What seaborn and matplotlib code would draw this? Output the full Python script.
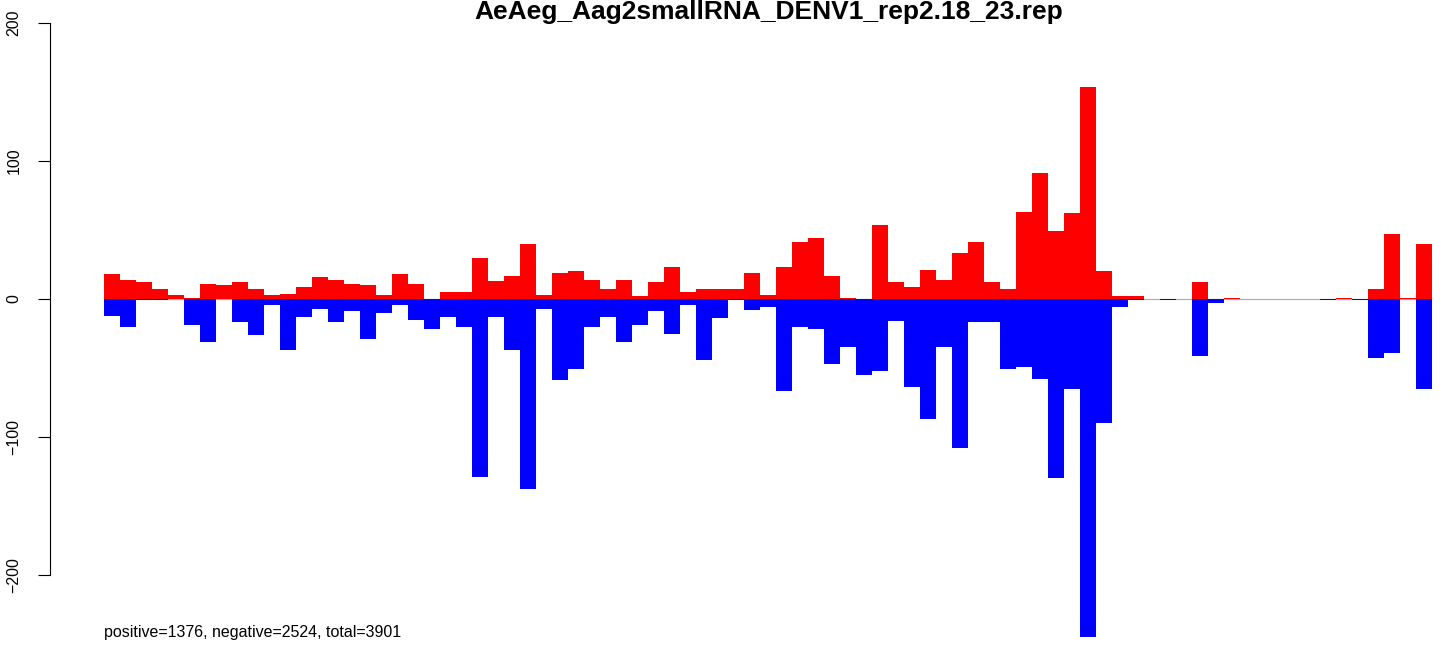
import numpy as np
import pandas as pd
import matplotlib
matplotlib.use("Agg")
import matplotlib.pyplot as plt
import seaborn as sns

# stile di base, poi font tipo Helvetica come in R
sns.set_theme(style="white")
plt.rcParams["font.family"] = ["Liberation Sans", "DejaVu Sans"]

titolo = "AeAeg_Aag2smallRNA_DENV1_rep2.18_23.rep"
nota = "positive=1376, negative=2524, total=3901"

# letture per bin (83 bin), positivi sopra lo zero, negativi sotto
positivi = [18, 14, 12, 7, 3, 1, 11, 10, 12, 7, 3, 4, 9, 16, 14, 11, 10, 3, 18, 11, 0, 5,
            5, 30, 13, 17, 40, 3, 19, 20, 14, 7, 14, 2, 12, 23, 5, 7, 7, 7, 19, 3, 23, 41,
            44, 17, 1, 0, 54, 12, 9, 21, 14, 33, 41, 12, 7, 63, 91, 49, 62, 154, 20, 2, 2,
            0, 0, 0, 12, 0, 1, 0, 0, 0, 0, 0, 0, 0.5, 0, 7, 47, 0.5, 40]
negativi = [12, 20, 1, 1, 0, 19, 31, 0, 17, 26, 4, 37, 13, 7, 17, 9, 29, 10, 4, 15, 22, 13,
            20, 129, 13, 37, 138, 7, 59, 51, 20, 13, 31, 19, 9, 25, 4, 44, 14, 1, 8, 6, 67, 20,
            22, 47, 35, 55, 52, 16, 64, 87, 35, 108, 17, 17, 51, 49, 58, 130, 65, 245, 90, 6, 1,
            0, 0.5, 0, 41, 3, 0.3, 0, 0, 0, 0, 0, 0.5, 0, 0.5, 43, 39, 0, 65]
bins = np.arange(1, len(positivi) + 1)

y_ticks = [-200, -100, 0, 100, 200]
y_labels = ["\u2212200", "\u2212100", "0", "100", "200"]

df = pd.DataFrame({
    "bin": bins,
    "positivi": positivi,
    "negativi": [-v for v in negativi],
})

fig = plt.figure(figsize=(14.44, 6.48), dpi=100)
# assi su tutta l'altezza: la barra piu' lunga scende oltre -200
ax = fig.add_axes([50 / 1444, 0, 1394 / 1444, 1])

# linea dello zero sotto le barre
ax.hlines(0, -0.5, len(bins) - 0.5, color="#b0b0b0", linewidth=0.9, zorder=0)

sns.barplot(data=df, x="bin", y="positivi", color="#ff0000", saturation=1,
            width=1, linewidth=0, errorbar=None, ax=ax)
sns.barplot(data=df, x="bin", y="negativi", color="#0000ff", saturation=1,
            width=1, linewidth=0, errorbar=None, ax=ax)

ax.set_xlim(-3.875, 83.25)
ax.set_ylim(-252.9, 216.7)
ax.set_xlabel("")
ax.set_ylabel("")
ax.set_xticks([])
ax.set_yticks(y_ticks)
ax.set_yticklabels(y_labels, rotation=90, va="center", fontsize=11.5, color="black")

sns.despine(ax=ax, bottom=True)
ax.spines["left"].set_bounds(-200, 200)
ax.spines["left"].set_color("black")
ax.spines["left"].set_linewidth(0.8)
ax.tick_params(axis="y", left=True, length=8.6, width=0.8, color="black", pad=12)

fig.text(768.5 / 1444, 1 - 19 / 648, titolo, ha="center", va="baseline",
         fontsize=19, fontweight="bold", color="black")
fig.text(104 / 1444, 1 - 637 / 648, nota, ha="left", va="baseline",
         fontsize=11.5, color="black")

fig.savefig("out.png", dpi=100)
